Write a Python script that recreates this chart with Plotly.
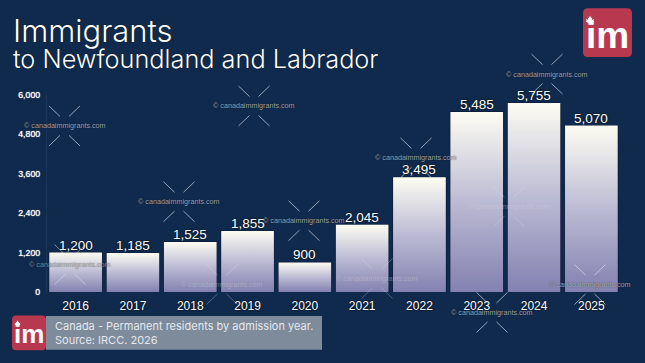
import plotly.graph_objects as go

years = ["2016","2017","2018","2019","2020","2021","2022","2023","2024","2025"]
values = [1200,1185,1525,1855,900,2045,3495,5485,5755,5070]
y_ticks = [0,1200,2400,3600,4800,6000]
y_tick_labels = ["0","1,200","2,400","3,600","4,800","6,000"]
watermarks = [(64.5,126),(254,106),(179,202),(304,221),(416,158),(547,74),(509,207),(222,285),(70,265),(377,279),(492,313),(590,285)]
wm_alpha = [.66,.66,.66,.66,.66,.66,.3,.3,.5,.3,.66,.66]

L,R,T,B = 47,620,95,292.5
W,H = 645,363
BG = "#0f2a4d"
def xp(p): return (p-L)/(R-L)
def yp(p): return (B-p)/(B-T)

fig = go.Figure()
fig.add_trace(go.Bar(x=list(range(10)), y=values, width=0.925, marker=dict(color="#c8c6da", line=dict(color="#0a1836", width=1)),
    cliponaxis=False, hoverinfo="skip"))
hw = 0.4625-0.004
for i,v in enumerate(values):
    fig.add_trace(go.Scatter(x=[i-hw,i+hw,i+hw,i-hw,i-hw], y=[0,0,v,v,0], mode="lines", line=dict(width=0),
        fill="toself", fillgradient=dict(type="vertical", colorscale=[[0,"#8381b0"],[0.5,"#bcbbd4"],[1,"#fdfcf2"]]),
        hoverinfo="skip", showlegend=False))

shapes=[]; ann=[]
def rrect(x0,y0,x1,y1,r,fill):
    a,b,c,d = xp(x0),xp(x1),yp(y0),yp(y1)
    rx=r/(R-L); ry=r/(B-T)
    path=f"M{a+rx},{c} L{b-rx},{c} Q{b},{c} {b},{c-ry} L{b},{d+ry} Q{b},{d} {b-rx},{d} L{a+rx},{d} Q{a},{d} {a},{d+ry} L{a},{c-ry} Q{a},{c} {a+rx},{c} Z"
    shapes.append(dict(type="path",xref="paper",yref="paper",path=path,fillcolor=fill,line=dict(width=0),layer="above"))

LEAF = [(0,-5),(1.2,-2.8),(2.2,-3.2),(1.8,-0.8),(4,-1.6),(3.4,0.2),(4.4,0.8),(1.2,2.6),(1.2,4),(0.3,3.2),(-0.3,3.2),(-1.2,4),(-1.2,2.6),(-4.4,0.8),(-3.4,0.2),(-4,-1.6),(-1.8,-0.8),(-2.2,-3.2),(-1.2,-2.8)]
def leaf(cx,cy,s):
    pts=[(xp(cx+s*a),yp(cy+s*b)) for a,b in LEAF]
    path="M"+" L".join(f"{x},{y}" for x,y in pts)+" Z"
    shapes.append(dict(type="path",xref="paper",yref="paper",path=path,fillcolor="#ffffff",line=dict(width=0),layer="above"))

shapes.append(dict(type="rect",xref="paper",yref="paper",x0=xp(46),x1=xp(322),y0=yp(316.5),y1=yp(350.5),fillcolor="#7d8b9b",line=dict(width=0),layer="above"))
rrect(583,8,632,57,5,"#b8394f")
rrect(12,316,46,351,4,"#b8394f")

def text(px,py,s,size,color,anchor="left",family="Inter",weight=None,shadow=None):
    f=dict(family=family,size=size,color=color)
    if weight: f["weight"]=weight
    if shadow: f["shadow"]=shadow
    ann.append(dict(xref="paper",yref="paper",x=xp(px),y=yp(py),text=s,showarrow=False,xanchor=anchor,yanchor="middle",font=f))

for i,v in enumerate(values):
    ann.append(dict(xref="x",yref="y",x=i,y=v,yshift=7.5,text=f"{v:,}",showarrow=False,yanchor="middle",
        font=dict(family="Liberation Sans",size=13.5,color="#ffffff",shadow="0 0 2px #000")))

text(11,30,"Immigrants",31,"#ffffff",weight=300,shadow="0 0 1px #000")
text(11,58,"to Newfoundland and Labrador",25.3,"#ffffff",weight=300,shadow="0 0 1px #000")
text(53,327,"Canada - Permanent residents by admission year.",11,"#e4e8ee",weight=400)
text(53,341,"Source: IRCC. 2026",11,"#e4e8ee",weight=400)
text(607.5,35,"im",37,"#ffffff","center","Liberation Sans",700)
text(29,335,"im",26,"#ffffff","center","Liberation Sans",700)
leaf(590,20.5,1)
leaf(17.5,324.5,0.7)

for (cx,cy),a in zip(watermarks,wm_alpha):
    for sx in (-1,1):
        for sy in (-1,1):
            shapes.append(dict(type="line",xref="paper",yref="paper",x0=xp(cx+sx*4.5),y0=yp(cy+sy*9.5),x1=xp(cx+sx*15.5),y1=yp(cy+sy*20),
                line=dict(color=f"rgba(225,225,235,{a})",width=1),layer="above"))
    text(cx,cy,"© canadaimmigrants.com",7.2,f"rgba(210,210,215,{a+.1})","center","Liberation Sans",
         shadow="0 0 1px #000" if a>0.4 else None)

fig.update_layout(width=W,height=H,margin=dict(l=L,r=W-R,t=T,b=H-B),paper_bgcolor=BG,plot_bgcolor=BG,showlegend=False,
    shapes=shapes,annotations=ann,bargap=0.075)
fig.update_xaxes(range=[-0.5,9.5],tickvals=list(range(10)),ticktext=years,showgrid=False,zeroline=False,ticks="",ticklen=0,ticklabelstandoff=5,
    tickfont=dict(family="Liberation Sans",size=12,color="#ffffff",weight=400,shadow="0 0 2px #000"))
fig.update_yaxes(range=[0,6000],tickvals=y_ticks,ticktext=y_tick_labels,showgrid=False,zeroline=False,showline=True,linecolor="#1b3658",linewidth=1,ticks="",ticklabelstandoff=4,
    tickfont=dict(family="Liberation Sans",size=8.8,color="#ffffff",shadow="0 0 1px #fff"))
fig.write_html("out.html",config={"displayModeBar":False},post_script="document.body.style.margin='0';document.body.style.background='#0f2a4d';document.documentElement.style.overflow='hidden';")
